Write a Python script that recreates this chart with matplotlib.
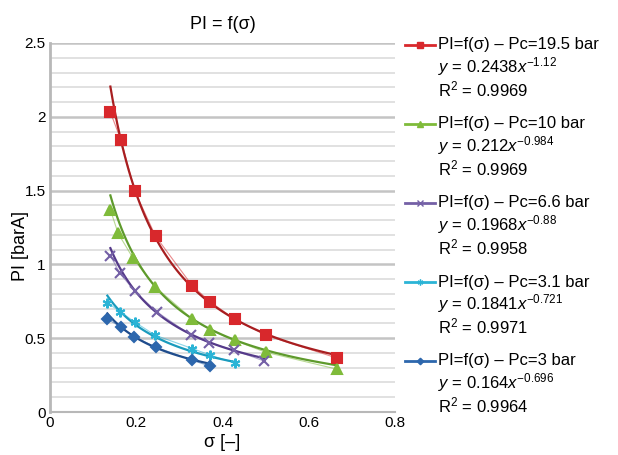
import numpy as np
import matplotlib
matplotlib.use('Agg')
import matplotlib.pyplot as plt
from matplotlib.lines import Line2D

plt.rcParams['font.family'] = ['Liberation Sans', 'DejaVu Sans']
plt.rcParams['mathtext.fontset'] = 'custom'
plt.rcParams['mathtext.rm'] = 'Liberation Sans'
plt.rcParams['mathtext.it'] = 'Liberation Sans:italic'

# measured points, one list per pressure Pc
pc_labels = ['19.5', '10', '6.6', '3.1', '3']
x_195 = [0.14, 0.165, 0.196, 0.245, 0.33, 0.372, 0.428, 0.5, 0.666]
y_195 = [2.03, 1.84, 1.50, 1.19, 0.855, 0.745, 0.63, 0.52, 0.365]
x_10 = [0.14, 0.158, 0.193, 0.243, 0.33, 0.372, 0.428, 0.5, 0.666]
y_10 = [1.37, 1.21, 1.04, 0.85, 0.63, 0.555, 0.485, 0.405, 0.29]
x_66 = [0.14, 0.162, 0.196, 0.247, 0.327, 0.368, 0.426, 0.497]
y_66 = [1.06, 0.94, 0.82, 0.68, 0.52, 0.47, 0.42, 0.345]
x_31 = [0.133, 0.163, 0.196, 0.244, 0.33, 0.372, 0.43]
y_31 = [0.74, 0.68, 0.61, 0.52, 0.43, 0.385, 0.33]
x_3 = [0.133, 0.165, 0.195, 0.245, 0.33, 0.372]
y_3 = [0.63, 0.575, 0.51, 0.44, 0.35, 0.31]

# power trendline y = a*x^b, as printed in the legend
fit_a = ['0.2438', '0.212', '0.1968', '0.1841', '0.164']
fit_b = ['-1.12', '-0.984', '-0.88', '-0.721', '-0.696']
r2 = ['0.9969', '0.9969', '0.9958', '0.9971', '0.9964']

xs = [x_195, x_10, x_66, x_31, x_3]
ys = [y_195, y_10, y_66, y_31, y_3]
mcol = ['#d8282c', '#7fbb3a', '#7460a6', '#2bb4d6', '#2d67ad']
tcol = ['#a81e20', '#5e9a2c', '#553a8a', '#1a9bbd', '#1f4c8c']
marks = ['s', '^', 'x', (6, 2, 0), 'D']
msz = [7.5, 7, 6.5, 7, 5.5]

fig = plt.figure(figsize=(6.18, 4.55), dpi=100)
ax = fig.add_axes([50/618, 1-412/455, 345/618, 369/455])

ax.set_xlim(0, 0.8)
ax.set_ylim(0, 2.5)
ax.set_xticks([0, 0.2, 0.4, 0.6, 0.8])
ax.set_xticklabels(['0', '0.2', '0.4', '0.6', '0.8'])
ax.set_yticks([0, 0.5, 1, 1.5, 2, 2.5])
ax.set_yticklabels(['0', '0.5', '1', '1.5', '2', '2.5'])
ax.set_yticks(np.arange(0, 2.51, 0.1), minor=True)
ax.grid(True, axis='y', which='minor', color='#dcdcdc', lw=1.2)
ax.grid(True, axis='y', which='major', color='#c4c4c4', lw=1.8)
ax.set_axisbelow(True)
for s in ['top', 'right']:
    ax.spines[s].set_visible(False)
ax.spines['left'].set_color('#b8b8b8')
ax.spines['left'].set_linewidth(2)
ax.spines['bottom'].set_color('#b8b8b8')
ax.spines['bottom'].set_linewidth(1.5)
ax.tick_params(which='both', length=0, labelsize=11, pad=3)
ax.tick_params(axis='y', which='minor', left=False)

for i in range(5):
    # thin series line, then opaque markers, then the power trendline
    ax.plot(xs[i], ys[i], color=mcol[i], lw=0.8, alpha=0.55, zorder=3)
    ax.plot(xs[i], ys[i], ls='none', marker=marks[i], ms=msz[i], mew=1.5,
            mec=mcol[i], mfc=mcol[i], zorder=5)
    xt = np.linspace(min(xs[i]), max(xs[i]), 100)
    ax.plot(xt, float(fit_a[i]) * xt ** float(fit_b[i]), color=tcol[i], lw=1.6, zorder=4)

ax.set_title('PI = f(σ)', fontsize=13, pad=10)
ax.set_xlabel('σ [–]', fontsize=13, labelpad=3)
ax.set_ylabel('PI [barA]', fontsize=13)
ax.yaxis.set_label_coords(-0.06, 0.45)

# legend built by hand so the handle sits on the first line of each entry
top = 45
step = 79
for i in range(5):
    yl = top + i * step
    yf = 1 - yl / 455
    fig.add_artist(Line2D([405/618, 420/618, 435/618], [yf, yf, yf], color=mcol[i], lw=2,
                          marker=marks[i], ms=msz[i] * 0.6, mew=1, mfc=mcol[i], mec=mcol[i],
                          markevery=[1], transform=fig.transFigure))
    fig.text(438/618, yf, 'PI=f(σ) – Pc=' + pc_labels[i] + ' bar', fontsize=12, va='center')
    fig.text(438/618, 1 - (yl + 22) / 455,
             r'$y$ = ' + fit_a[i] + r'$x^{' + fit_b[i] + '}$', fontsize=12, va='center')
    fig.text(438/618, 1 - (yl + 44) / 455, r'R$^{2}$ = ' + r2[i], fontsize=12, va='center')

fig.savefig('out.png', dpi=100)
